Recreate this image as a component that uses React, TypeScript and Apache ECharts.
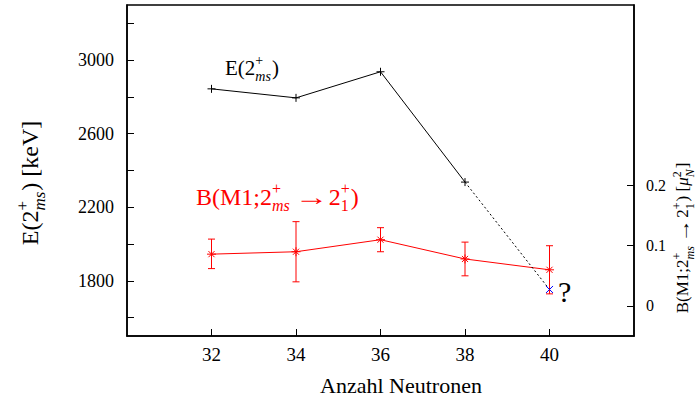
import React, { useEffect, useRef } from "react";
import * as echarts from "echarts";

// ---- data ----
const xTicks = [32, 34, 36, 38, 40];
const energyX = [32, 34, 36, 38];
const energyValues = [2844, 2795, 2937, 2337];
const extrapolX = [38, 40];
const extrapolValues = [2337, 1753];
const predictedPoint = [40, 1753];
const bm1X = [32, 34, 36, 38, 40];
const bm1Values = [0.086, 0.09, 0.11, 0.078, 0.06];
const bm1Low = [0.062, 0.04, 0.09, 0.05, 0.02];
const bm1High = [0.111, 0.14, 0.13, 0.106, 0.1];
const leftTicks = [1600, 1800, 2000, 2200, 2400, 2600, 2800, 3000, 3200];
const leftLabels = [1800, 2200, 2600, 3000];
const rightTicks = [0, 0.1, 0.2];

const FONT = "Liberation Serif";

type Run = { t: string; s?: number; it?: boolean; dy?: number; sx?: number; w?: number };
type Seg = Run | { sup: Run; sub: Run };

let ctx: CanvasRenderingContext2D | null = null;
function measure(t: string, s: number, it?: boolean) {
  if (!ctx) ctx = document.createElement("canvas").getContext("2d");
  if (!ctx) return t.length * s * 0.5;
  ctx.font = `${it ? "italic " : ""}${s}px ${FONT}`;
  return ctx.measureText(t).width;
}

function mathGroup(
  segs: Seg[],
  base: number,
  color: string,
  opts: { x: number; y: number; center?: boolean; rotation?: number; baselineCenter?: boolean }
) {
  const children: any[] = [];
  let cx = 0;
  const baseline = opts.baselineCenter ? 0.33 * base : 0;
  const addRun = (r: Run, x: number) => {
    const s = r.s ?? base;
    const sx = r.sx ?? 1;
    if (r.t) {
      children.push({
        type: "text",
        x,
        y: baseline - 0.34 * s + (r.dy ?? 0),
        scaleX: sx,
        style: {
          text: r.t,
          fontFamily: FONT,
          fontSize: s,
          fontStyle: r.it ? "italic" : "normal",
          fill: color,
          textAlign: "left",
          align: "left",
          textVerticalAlign: "middle",
          verticalAlign: "middle",
        },
      });
    }
    return r.w ?? measure(r.t, s, r.it) * sx;
  };
  for (const seg of segs) {
    if ("sup" in seg) {
      const w1 = addRun(seg.sup, cx);
      const w2 = addRun(seg.sub, cx);
      cx += Math.max(w1, w2) + 1;
    } else {
      cx += addRun(seg, cx);
    }
  }
  if (opts.center) {
    for (const c of children) c.x -= cx / 2;
  }
  return {
    type: "group",
    x: opts.x,
    y: opts.y,
    rotation: opts.rotation ?? 0,
    children,
  };
}

const plusPath = "path://M5,0 L5,10 M0,5 L10,5";
const starPath = "path://M5,0 L5,10 M0,5 L10,5 M1.6,1.6 L8.4,8.4 M8.4,1.6 L1.6,8.4";
const crossPath = "path://M0,0 L10,10 M10,0 L0,10";

function buildOption() {
  const axisLabelStyle = { fontFamily: FONT, color: "#000", formatter: (v: number) => String(v) };
  const graphic = [
    mathGroup(
      [{ t: "E(2" }, { sup: { t: "+", s: 14, dy: -10 }, sub: { t: "ms", s: 14, it: true, dy: 6.5 } }, { t: ")" }],
      21,
      "#000",
      { x: 225, y: 75 }
    ),
    mathGroup(
      [
        { t: "B(M1;2" },
        { sup: { t: "+", s: 16, dy: -11 }, sub: { t: "ms", s: 16, it: true, dy: 5.5 } },
        { t: "", w: 4 },
        { t: "→", sx: 1.4, w: 34 },
        { t: "2" },
        { sup: { t: "+", s: 16, dy: -11 }, sub: { t: "1", s: 16, dy: 5.5 } },
        { t: ")" },
      ],
      24,
      "#ff0000",
      { x: 196, y: 205 }
    ),
    mathGroup([{ t: "?", s: 30 }], 30, "#000", { x: 558, y: 301.5 }),
    mathGroup([{ t: "Anzahl Neutronen" }], 22, "#000", { x: 401, y: 393.3, center: true }),
    mathGroup(
      [
        { t: "E(2" },
        { sup: { t: "+", s: 17, dy: -10 }, sub: { t: "ms", s: 17, it: true, dy: 7 } },
        { t: ") [keV]" },
      ],
      24,
      "#000",
      { x: 30, y: 183, center: true, rotation: Math.PI / 2, baselineCenter: true }
    ),
    mathGroup(
      [
        { t: "B(M1;2" },
        { sup: { t: "+", s: 12, dy: -8 }, sub: { t: "ms", s: 12, it: true, dy: 5 } },
        { t: "", w: 3 },
        { t: "→", sx: 1.4, w: 24.5 },
        { t: "2" },
        { sup: { t: "+", s: 12, dy: -8 }, sub: { t: "1", s: 12, dy: 5 } },
        { t: ") [" },
        { t: "μ", it: true },
        { sup: { t: "2", s: 12, dy: -8 }, sub: { t: "N", s: 12, it: true, dy: 5 } },
        { t: "]" },
      ],
      17,
      "#000",
      { x: 683, y: 238, center: true, rotation: Math.PI / 2, baselineCenter: true }
    ),
  ];

  return {
    animation: false,
    grid: {
      left: 127,
      right: 62,
      top: 5,
      bottom: 65,
      show: true,
      borderColor: "#000",
      borderWidth: 1.5,
      containLabel: false,
      outerBoundsMode: "none",
    },
    xAxis: {
      type: "value",
      min: 30,
      max: 42,
      axisLine: { show: true, onZero: false, lineStyle: { color: "#000", width: 1.5 } },
      axisTick: { show: true, inside: true, length: 7, customValues: xTicks, lineStyle: { color: "#000" } },
      axisLabel: { customValues: xTicks, margin: 9, fontSize: 19, ...axisLabelStyle },
      splitLine: { show: false },
    },
    yAxis: [
      {
        type: "value",
        position: "left",
        min: 1500,
        max: 3300,
        axisLine: { show: true, onZero: false, lineStyle: { color: "#000", width: 1.5 } },
        axisTick: { show: true, inside: true, length: 7, customValues: leftTicks, lineStyle: { color: "#000" } },
        axisLabel: { customValues: leftLabels, margin: 13, fontSize: 18, ...axisLabelStyle },
        splitLine: { show: false },
      },
      {
        type: "value",
        position: "right",
        min: -0.05,
        max: 0.5,
        axisLine: { show: true, onZero: false, lineStyle: { color: "#000", width: 1.5 } },
        axisTick: { show: true, inside: true, length: 7, customValues: rightTicks, lineStyle: { color: "#000" } },
        axisLabel: { customValues: rightTicks, margin: 12, fontSize: 16, ...axisLabelStyle },
        splitLine: { show: false },
      },
    ],
    series: [
      {
        type: "line",
        yAxisIndex: 1,
        data: bm1X.map((x, i) => [x, bm1Values[i]]),
        symbol: starPath,
        symbolSize: 9,
        lineStyle: { color: "#ff0000", width: 1 },
        itemStyle: { color: "#ff0000", borderColor: "#ff0000", borderWidth: 1 },
        z: 3,
      },
      {
        type: "custom",
        yAxisIndex: 1,
        data: bm1X.map((x, i) => [x, bm1Low[i], bm1High[i]]),
        encode: { x: 0, y: [1, 2] },
        renderItem: (_params: any, api: any) => {
          const x = api.value(0);
          const lo = api.coord([x, api.value(1)]);
          const hi = api.coord([x, api.value(2)]);
          const w = 3.5;
          const st = { stroke: "#ff0000", lineWidth: 1 };
          return {
            type: "group",
            children: [
              { type: "line", shape: { x1: lo[0], y1: lo[1], x2: hi[0], y2: hi[1] }, style: st },
              { type: "line", shape: { x1: lo[0] - w, y1: lo[1], x2: lo[0] + w, y2: lo[1] }, style: st },
              { type: "line", shape: { x1: hi[0] - w, y1: hi[1], x2: hi[0] + w, y2: hi[1] }, style: st },
            ],
          };
        },
        z: 3,
      },
      {
        type: "line",
        yAxisIndex: 0,
        data: energyX.map((x, i) => [x, energyValues[i]]),
        symbol: plusPath,
        symbolSize: 8,
        lineStyle: { color: "#000", width: 1 },
        itemStyle: { color: "#000", borderColor: "#000", borderWidth: 1 },
        z: 4,
      },
      {
        type: "line",
        yAxisIndex: 0,
        data: extrapolX.map((x, i) => [x, extrapolValues[i]]),
        symbol: "none",
        lineStyle: { color: "#000", width: 1, type: [2, 2.5] },
        z: 4,
      },
      {
        type: "line",
        yAxisIndex: 0,
        data: [predictedPoint],
        symbol: crossPath,
        symbolSize: 7,
        lineStyle: { width: 0 },
        itemStyle: { color: "#0000ff", borderColor: "#0000ff", borderWidth: 1 },
        z: 5,
      },
    ],
    graphic,
  };
}

export default function App() {
  const ref = useRef<HTMLDivElement>(null);
  useEffect(() => {
    if (!ref.current) return;
    const chart = echarts.init(ref.current, null, { renderer: "svg" });
    chart.setOption(buildOption() as any);
    return () => chart.dispose();
  }, []);
  return (
    <div
      ref={ref}
      style={{ position: "fixed", left: 0, top: 0, width: 696, height: 401, background: "#fff" }}
    />
  );
}
